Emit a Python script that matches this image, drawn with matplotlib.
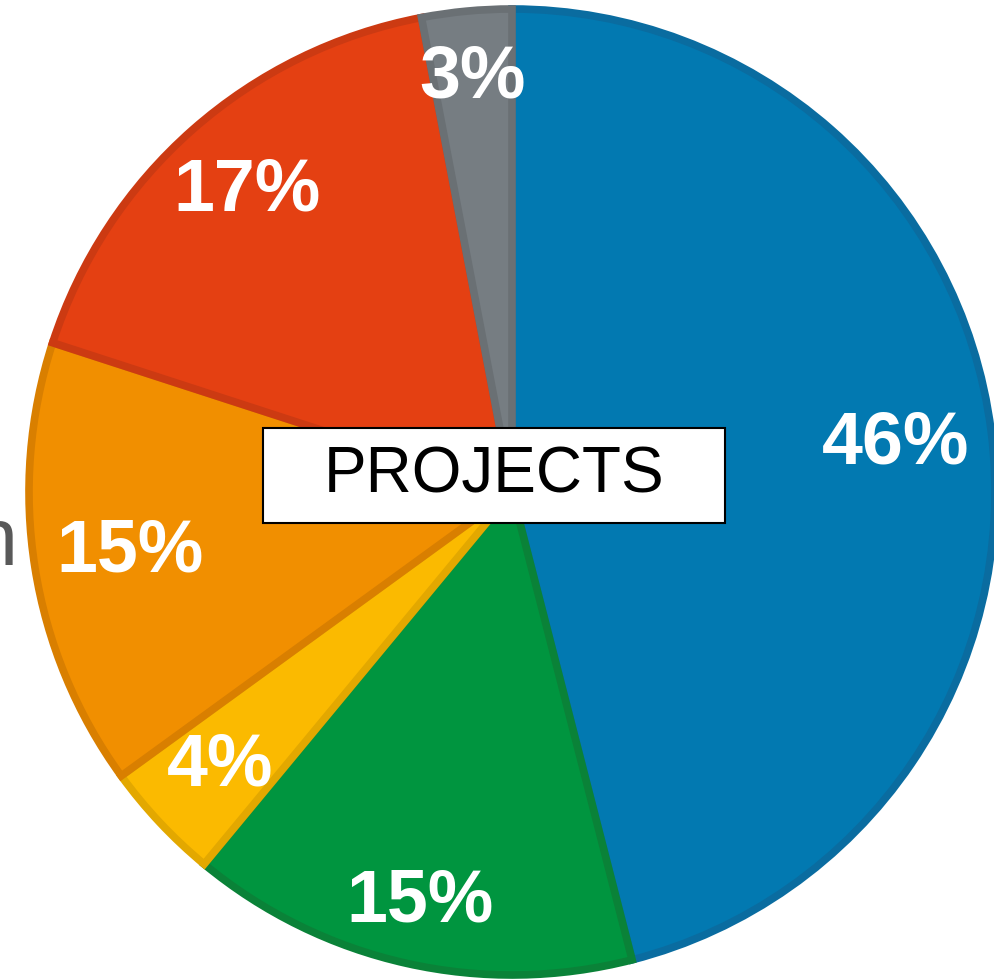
import numpy as np
import matplotlib.pyplot as plt
from matplotlib.patches import Rectangle

labels = ["A", "B", "C", "D", "E", "F"]
values = [46, 15, 4, 15, 17, 3]
colors = ["#0279B1", "#00953F", "#FBBA00", "#F18F00", "#E44012", "#767D82"]
edges = ["#0A6CA0", "#0A8238", "#E3A800", "#D97F00", "#CC3A12", "#6A7074"]
label_dist = [0.80, 0.87, 0.83, 0.80, 0.83, 0.86]

plt.rcParams['font.family'] = ['Liberation Sans', 'DejaVu Sans']

fig = plt.figure(figsize=(9.94, 9.80), dpi=100)
ax = fig.add_axes([0, 0, 1, 1])

# cut-off label from the left side
ax.text(17, 415, "n", ha='right', va='baseline', fontsize=58, color="#595959", zorder=0)

cx, cy, r = 512, 488, 483
wedges, texts, autotexts = ax.pie(
    values, colors=colors, startangle=90, counterclock=False,
    center=(cx, cy), radius=r, autopct='%d%%', pctdistance=0.82,
    wedgeprops=dict(linewidth=5.5), textprops=dict(color='white', fontsize=53, fontweight='bold'),
    frame=True)
for w, e, t, d in zip(wedges, edges, autotexts, label_dist):
    w.set_edgecolor(e)
    ang = np.deg2rad((w.theta1 + w.theta2) / 2)
    t.set_position((cx + d * r * np.cos(ang), cy + d * r * np.sin(ang)))
    t.set_zorder(5)
ax.set_xlim(0, 994)
ax.set_ylim(0, 980)
ax.set_aspect('equal')
ax.axis('off')

ax.add_patch(Rectangle((263, 980 - 523), 462, 95, facecolor='white', edgecolor='black',
                       linewidth=1.5, zorder=6))
ax.text(494, 980 - 476, "PROJECTS", ha='center', va='center', fontsize=46, color='black', zorder=7)

fig.savefig("out.png", dpi=100)
